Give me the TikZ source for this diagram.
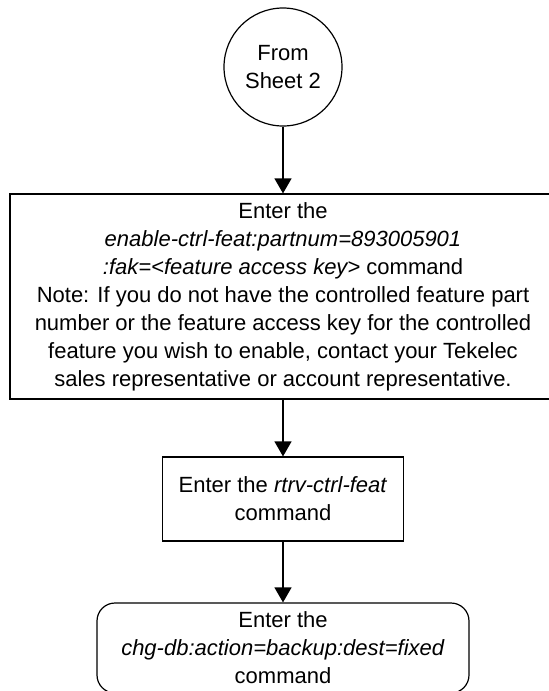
\documentclass[tikz,border=0pt]{standalone}
\usepackage{fontspec}
\setmainfont{Liberation Sans}
\usetikzlibrary{arrows.meta}

\begin{document}
\begin{tikzpicture}[x=0.5pt, y=-0.5pt,
        caixa/.style={draw, line width=0.6pt, align=center, inner sep=0pt,
            font=\fontsize{11}{14}\selectfont},
        seta/.style={line width=0.65pt, -{Triangle[width=8.5pt, length=7.5pt]}}]
        % 1. VARIÁVEIS (eixo central e tamanho da folha)
        \def\X{283}   % eixo vertical do fluxograma
        \def\W{549}   % largura da folha
        \def\H{691}   % altura da folha

        % Moldura fixa da figura
        \useasboundingbox (0,0) rectangle (\W,\H);

        % ==========================================
        % 2. CONECTOR DE ENTRADA (vindo da folha 2)
        % ==========================================
        \node[caixa, circle, minimum size=59pt] (folha) at (\X, 67) {From\\Sheet 2};

        % ==========================================
        % 3. CAIXAS DE COMANDO
        % ==========================================
        % Caixa larga com a nota
        \node[caixa, minimum width=273pt, minimum height=102.5pt] (habilita) at (\X, 296.5)
            {Enter the\\
             \textit{enable-ctrl-feat:partnum=893005901}\\
             \textit{:fak=<feature access key>} command\\
             Note: If you do not have the controlled feature part\\
             number or the feature access key for the controlled\\
             feature you wish to enable, contact your Tekelec\\
             sales representative or account representative.};

        % Caixa do rtrv-ctrl-feat
        \node[caixa, minimum width=120.5pt, minimum height=42pt] (consulta) at (\X, 499)
            {Enter the \textit{rtrv-ctrl-feat}\\command};

        % Caixa final (cantos arredondados)
        \node[caixa, rounded corners=9pt, minimum width=186pt, minimum height=45pt] (backup) at (\X, 648)
            {Enter the\\
             \textit{chg-db:action=backup:dest=fixed}\\
             command};

        % ==========================================
        % 4. SETAS ENTRE AS ETAPAS
        % ==========================================
        \draw[seta] (folha) -- (habilita);
        \draw[seta] (habilita) -- (consulta);
        \draw[seta] (consulta) -- (backup);
    \end{tikzpicture}
\end{document}
